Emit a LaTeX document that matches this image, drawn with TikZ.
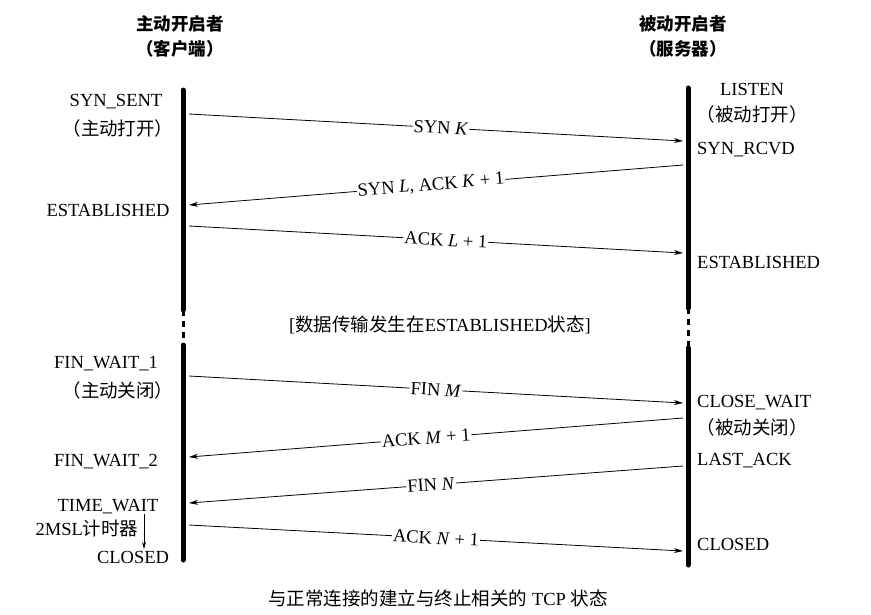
\documentclass[tikz,border=0pt]{standalone}
\usepackage{fontspec}
\setmainfont{Liberation Serif}
\newfontfamily\cjk{Noto Sans CJK SC}
\usetikzlibrary{arrows.meta}
\begin{document}
\begin{tikzpicture}[x=1pt,y=-1pt,
  txt/.style={font=\fontsize{18.5}{21}\selectfont, inner sep=0pt},
  head/.style={font=\cjk\bfseries\fontsize{17.5}{20}\selectfont, inner sep=0pt},
  life/.style={line width=5pt, line cap=round},
  lifedash/.style={line width=3pt, dash pattern=on 6pt off 5pt},
  msg/.style={-{Stealth[length=9pt,width=5pt]}, line width=0.8pt},
  lab/.style={font=\fontsize{18.5}{21}\selectfont, fill=white, inner sep=1pt, sloped}
]
\useasboundingbox (0,0) rectangle (871,614);

% headers
\node[head] (hc1) at (180,24) {主动开启者};
\node[head] (hc2) at (180,49) {（客户端）};
\node[head] (hs1) at (683,24) {被动开启者};
\node[head] (hs2) at (683,49) {（服务器）};

% lifelines
\coordinate (lt) at (183,90);
\coordinate (lm1) at (183,310);
\coordinate (lm2) at (183,345);
\coordinate (lb) at (183,560);
\coordinate (rt) at (688,88);
\coordinate (rm1) at (688,308);
\coordinate (rm2) at (688,348);
\coordinate (rb) at (688,565);
\draw[life] (lt) -- (lm1);
\draw[lifedash] (lm1) -- (lm2);
\draw[life] (lm2) -- (lb);
\draw[life] (rt) -- (rm1);
\draw[lifedash] (rm1) -- (rm2);
\draw[life] (rm2) -- (rb);

% message endpoints
\coordinate (m1a) at (189,114); \coordinate (m1b) at (683,141);
\coordinate (m2a) at (683,165); \coordinate (m2b) at (189,205);
\coordinate (m3a) at (189,226); \coordinate (m3b) at (683,253);
\coordinate (m4a) at (189,376); \coordinate (m4b) at (683,403);
\coordinate (m5a) at (683,418); \coordinate (m5b) at (189,457);
\coordinate (m6a) at (683,466); \coordinate (m6b) at (189,503);
\coordinate (m7a) at (189,525); \coordinate (m7b) at (683,551);

\draw[msg] (m1a) -- node[lab, pos=0.51] (l1) {SYN \textit{K}} (m1b);
\draw[msg] (m2a) -- node[lab, pos=0.51] (l2) {SYN \textit{L}, ACK \textit{K} + 1} (m2b);
\draw[msg] (m3a) -- node[lab, pos=0.52] (l3) {ACK \textit{L} + 1} (m3b);
\draw[msg] (m4a) -- node[lab, pos=0.5] (l4) {FIN \textit{M}} (m4b);
\draw[msg] (m5a) -- node[lab, pos=0.52] (l5) {ACK \textit{M} + 1} (m5b);
\draw[msg] (m6a) -- node[lab, pos=0.51] (l6) {FIN \textit{N}} (m6b);
\draw[msg] (m7a) -- node[lab, pos=0.5] (l7) {ACK \textit{N} + 1} (m7b);

% client states
\node[txt] (s1) at (116,102) {SYN\_SENT};
\node[txt] (s1b) at (118,128) {\cjk （主动打开）};
\node[txt] (s2) at (108,210) {ESTABLISHED};
\node[txt] (s3) at (106,364) {FIN\_WAIT\_1};
\node[txt] (s3b) at (118,390) {\cjk （主动关闭）};
\node[txt] (s4) at (106,462) {FIN\_WAIT\_2};
\node[txt] (s5) at (108,507) {TIME\_WAIT};
\node[txt] (s6) at (87,528) {2MSL{\cjk 计时器}};
\node[txt] (s7) at (133,557) {CLOSED};
\coordinate (tw1) at (144,514);
\coordinate (tw2) at (144,549);
\draw[-{Stealth[length=7pt,width=4pt]}, line width=0.8pt] (tw1) -- (tw2);

% server states
\node[txt] (r1) at (752,89) {LISTEN};
\node[txt] (r1b) at (752,114) {\cjk （被动打开）};
\node[txt, anchor=west] (r2) at (697,150) {SYN\_RCVD};
\node[txt, anchor=west] (r3) at (697,262) {ESTABLISHED};
\node[txt, anchor=west] (r4) at (697,403) {CLOSE\_WAIT};
\node[txt] (r4b) at (752,427) {\cjk （被动关闭）};
\node[txt, anchor=west] (r5) at (697,461) {LAST\_ACK};
\node[txt, anchor=west] (r6) at (697,544) {CLOSED};

% middle note
\node[txt] (note) at (440,325) {[{\cjk 数据传输发生在}ESTABLISHED{\cjk 状态}]};

% caption
\node[txt] (cap) at (438,598) {{\cjk 与正常连接的建立与终止相关的} TCP {\cjk 状态}};
\end{tikzpicture}
\end{document}
